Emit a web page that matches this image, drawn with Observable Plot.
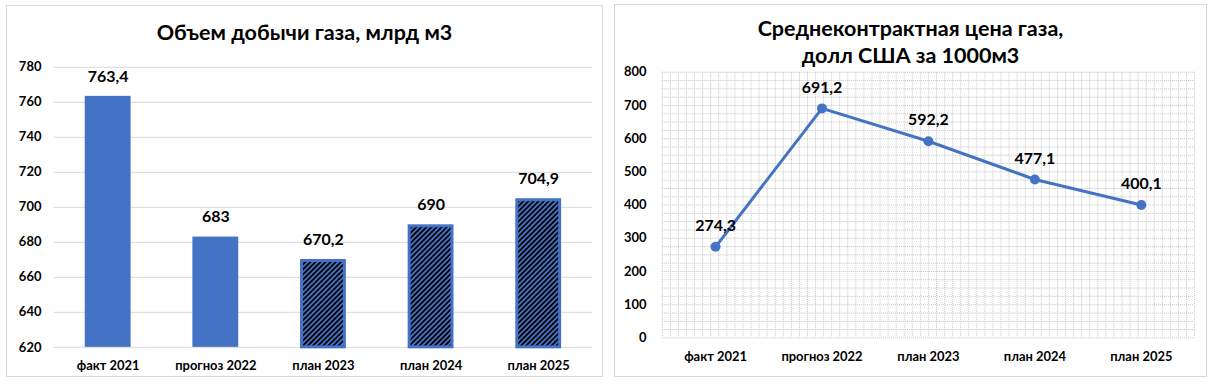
<!DOCTYPE html>
<html>
<head>
<meta charset="utf-8">
<script src="https://cdn.jsdelivr.net/npm/d3@7"></script>
<script src="https://cdn.jsdelivr.net/npm/@observablehq/plot@0.6"></script>
<style>
  body { margin: 0; background: #fff; font-family: Lato, "Open Sans", sans-serif; }
  .panel { position: absolute; box-sizing: border-box; border: 1.5px solid #d9d9d9; background: #fff; }
  .panel svg.plot { position: absolute; left: 0; top: 0; }
  .title { position: absolute; left: 0; right: 0; text-align: center; font-weight: bold; font-size: 21.5px; color: #000; line-height: 27px; }
</style>
</head>
<body>
<svg width="0" height="0" style="position:absolute">
  <defs>
    <pattern id="hatch" patternUnits="userSpaceOnUse" width="3.6" height="3.6" patternTransform="rotate(45)">
      <rect width="3.6" height="3.6" fill="#4472C4"></rect>
      <rect width="1.8" height="3.6" fill="#000"></rect>
    </pattern>
  </defs>
</svg>
<div id="left" class="panel" style="left:6px;top:5px;width:597px;height:372px;">
  <div class="title" style="top:13px;">Объем добычи газа, млрд м3</div>
</div>
<div id="right" class="panel" style="left:614px;top:4px;width:593px;height:373px;">
  <div class="title" style="top:10px;">Среднеконтрактная цена газа,<br>долл США за 1000м3</div>
</div>
<script>
const categories = ["факт 2021", "прогноз 2022", "план 2023", "план 2024", "план 2025"];
const production = [763.4, 683, 670.2, 690, 704.9];
const isPlan = [false, false, true, true, true];
const price = [274.3, 691.2, 592.2, 477.1, 400.1];
const productionTicks = [620, 640, 660, 680, 700, 720, 740, 760, 780];
const priceTicks = [0, 100, 200, 300, 400, 500, 600, 700, 800];

const fmt = v => String(v).replace(".", ",");
const font = "Lato, 'Open Sans', sans-serif";

const prodData = categories.map((c, i) => ({cat: c, v: production[i], plan: isPlan[i]}));
const priceData = categories.map((c, i) => ({pos: i + 0.5, v: price[i]}));

const left = Plot.plot({
  width: 597, height: 372,
  marginTop: 61, marginBottom: 30, marginLeft: 47, marginRight: 10,
  style: {fontFamily: font, fontSize: "13px", fontWeight: "bold", color: "#000", background: "transparent"},
  x: {domain: categories, paddingInner: 0.57, paddingOuter: 0.285, label: null, tickSize: 0, tickPadding: 13},
  y: {domain: [620, 780], ticks: productionTicks, label: null, tickSize: 0, tickPadding: 13},
  marks: [
    Plot.ruleY(productionTicks, {stroke: "#d9d9d9", strokeWidth: 1}),
    Plot.barY(prodData.filter(d => !d.plan), {x: "cat", y1: d => 620, y2: "v", fill: "#4472C4"}),
    Plot.barY(prodData.filter(d => d.plan), {x: "cat", y1: d => 620, y2: "v", fill: "url(#hatch)", stroke: "#4472C4", strokeWidth: 3, insetLeft: 1.5, insetRight: 1.5, insetTop: 1.5}),
    Plot.text(prodData, {x: "cat", y: "v", text: d => fmt(d.v), dy: -20, fontSize: 16, fontWeight: "bold", fill: "#000"})
  ]
});
left.classList.add("plot");
document.getElementById("left").prepend(left);

const vGrid = d3.range(67).map(i => i * 5 / 66);
const hGrid = d3.range(0, 801, 25);

const right = Plot.plot({
  width: 593, height: 373,
  marginTop: 67, marginBottom: 39.5, marginLeft: 47, marginRight: 12,
  style: {fontFamily: font, fontSize: "13px", fontWeight: "bold", color: "#000", background: "transparent"},
  x: {type: "linear", domain: [0, 5], ticks: [0.5, 1.5, 2.5, 3.5, 4.5], tickFormat: t => categories[Math.floor(t)], label: null, tickSize: 0, tickPadding: 14},
  y: {domain: [0, 800], ticks: priceTicks, label: null, tickSize: 0, tickPadding: 16},
  marks: [
    Plot.ruleX(vGrid, {stroke: "#c4c4c4", strokeWidth: 1, strokeDasharray: "1,1"}),
    Plot.ruleY(hGrid, {stroke: "#c4c4c4", strokeWidth: 1, strokeDasharray: "1,1"}),
    Plot.line(priceData, {x: "pos", y: "v", stroke: "#4472C4", strokeWidth: 3}),
    Plot.dot(priceData, {x: "pos", y: "v", r: 5, fill: "#4472C4", stroke: "none"}),
    Plot.text(priceData, {x: "pos", y: "v", text: d => fmt(d.v), dy: -21, fontSize: 16, fontWeight: "bold", fill: "#000"})
  ]
});
right.classList.add("plot");
document.getElementById("right").prepend(right);
</script>
</body>
</html>
